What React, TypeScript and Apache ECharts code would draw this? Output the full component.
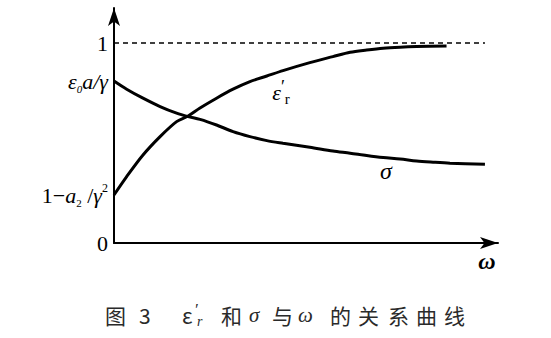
import React, { useEffect, useRef } from "react";
import * as echarts from "echarts";

// ε′r (relative permittivity) against ω
const epsOmega = [0, 0.33, 0.755, 1.2, 1.63, 1.93, 2.24, 2.67, 3.1, 3.54, 3.98, 4.4, 5.1, 5.7, 6.15, 6.58, 7.01, 7.45, 7.88, 8.66];
const epsValues = [0.24, 0.332, 0.44, 0.532, 0.607, 0.635, 0.675, 0.724, 0.769, 0.807, 0.835, 0.862, 0.902, 0.932, 0.954, 0.965, 0.974, 0.979, 0.982, 0.985];

// σ (conductivity) against ω
const sigmaOmega = [0, 0.33, 0.755, 1.2, 1.63, 1.93, 2.24, 2.67, 3.1, 3.54, 3.98, 4.4, 5.1, 5.7, 6.15, 6.58, 7.01, 7.45, 7.88, 8.31, 8.75, 9.66];
const sigmaValues = [0.81, 0.769, 0.724, 0.682, 0.649, 0.632, 0.618, 0.59, 0.557, 0.532, 0.512, 0.499, 0.479, 0.46, 0.449, 0.437, 0.427, 0.42, 0.41, 0.404, 0.399, 0.394];

// asymptote ε′r → 1
const limitOmega = [0, 9.66];
const limitValue = 1;

// marked levels on the vertical axis
const yTickValues = [0, 0.24, 0.81, 1];
const yTickLabels = [
  "{n|0}",
  "{n|1−}{i|a}{sub|2}{n| /}{i|γ}{sup|2}",
  "{i|ε}{subi|0}{i|a/γ}",
  "{n|1}",
];

const SERIF = "Liberation Serif";
const CJK = "Noto Sans CJK SC";

export default function App() {
  const ref = useRef<HTMLDivElement>(null);

  useEffect(() => {
    if (!ref.current) return;
    const chart = echarts.init(ref.current, undefined, { renderer: "svg" });

    const toPairs = (xs: number[], ys: number[]) => xs.map((x, i) => [x, ys[i]]);

    const captionColor = "#2a2a2a";
    const cjk = (text: string, x: number) => ({
      type: "text",
      x,
      y: 315,
      style: { text, fontFamily: CJK, fontSize: 21, fill: captionColor, verticalAlign: "middle" },
    });
    const greek = (text: string, x: number, y = 315, size = 21) => ({
      type: "text",
      x,
      y,
      style: { text, fontFamily: SERIF, fontStyle: "italic", fontSize: size, fill: captionColor, verticalAlign: "middle" },
    });

    chart.setOption({
      animation: false,
      backgroundColor: "#fff",
      grid: { left: 114, right: 53, top: 8, bottom: 95, outerBoundsMode: "none" },
      xAxis: {
        type: "value",
        min: 0,
        max: 10,
        name: "ω",
        nameLocation: "end",
        nameGap: -11,
        nameTextStyle: {
          fontFamily: SERIF,
          fontStyle: "italic",
          fontWeight: "bold",
          fontSize: 24,
          color: "#000",
          align: "center",
          verticalAlign: "top",
          padding: [6, 0, 0, 0],
        },
        axisLine: {
          show: true,
          symbol: ["none", "arrow"],
          symbolSize: [9, 18],
          lineStyle: { color: "#000", width: 2 },
        },
        axisTick: { show: false },
        axisLabel: { show: false },
        splitLine: { show: false },
      },
      yAxis: {
        type: "value",
        min: 0,
        max: 1.175,
        axisLine: {
          show: true,
          symbol: ["none", "arrow"],
          symbolSize: [9, 18],
          lineStyle: { color: "#000", width: 2 },
        },
        axisTick: { show: false },
        splitLine: { show: false },
        axisLabel: {
          show: true,
          customValues: yTickValues,
          margin: 6,
          formatter: (v: number) => {
            const i = yTickValues.findIndex((t) => Math.abs(t - v) < 1e-6);
            return i >= 0 ? yTickLabels[i] : "";
          },
          rich: {
            n: { fontFamily: SERIF, fontSize: 22, color: "#000", lineHeight: 26 },
            i: { fontFamily: SERIF, fontStyle: "italic", fontSize: 22, color: "#000", lineHeight: 26 },
            sub: { fontFamily: SERIF, fontSize: 11, color: "#000", lineHeight: 12, verticalAlign: "bottom" },
            subi: { fontFamily: SERIF, fontStyle: "italic", fontSize: 11, color: "#000", lineHeight: 12, verticalAlign: "bottom" },
            sup: { fontFamily: SERIF, fontSize: 12, color: "#000", lineHeight: 13, verticalAlign: "top" },
          },
        },
      },
      series: [
        {
          type: "line",
          data: toPairs(limitOmega, [limitValue, limitValue]),
          symbol: "none",
          lineStyle: { color: "#000", width: 1.3, type: [5, 4] },
          silent: true,
        },
        {
          name: "ε′r",
          type: "line",
          data: toPairs(epsOmega, epsValues),
          symbol: "none",
          smooth: 0.3,
          lineStyle: { color: "#000", width: 3 },
          markPoint: {
            symbol: "circle",
            symbolSize: 1,
            itemStyle: { color: "transparent" },
            label: {
              show: true,
              position: "inside",
              formatter: "{e|ε}{p|′}{r|r}",
              rich: {
                e: { fontFamily: SERIF, fontStyle: "italic", fontSize: 22, color: "#000", lineHeight: 28 },
                p: { fontFamily: SERIF, fontSize: 18, color: "#000", lineHeight: 16, verticalAlign: "top" },
                r: { fontFamily: SERIF, fontSize: 15, color: "#000", lineHeight: 13, verticalAlign: "bottom" },
              },
            },
            data: [{ coord: [4.35, 0.755] }],
          },
        },
        {
          name: "σ",
          type: "line",
          data: toPairs(sigmaOmega, sigmaValues),
          symbol: "none",
          smooth: 0.3,
          lineStyle: { color: "#000", width: 3 },
          markPoint: {
            symbol: "circle",
            symbolSize: 1,
            itemStyle: { color: "transparent" },
            label: {
              show: true,
              position: "inside",
              formatter: "σ",
              fontFamily: SERIF,
              fontStyle: "italic",
              fontSize: 24,
              color: "#000",
            },
            data: [{ coord: [7.08, 0.36] }],
          },
        },
      ],
      graphic: [
        cjk("图", 105),
        cjk("3", 139),
        {
          type: "text",
          x: 182,
          y: 315,
          style: { text: "ε", fontFamily: CJK, fontSize: 21, fill: captionColor, verticalAlign: "middle" },
        },
        greek("′", 194, 309, 17),
        greek("r", 197, 321, 14),
        cjk("和", 221),
        greek("σ", 249),
        cjk("与", 272),
        greek("ω", 298),
        cjk("的", 330),
        cjk("关", 358),
        cjk("系", 388),
        cjk("曲", 416),
        cjk("线", 444),
      ],
    });

    return () => chart.dispose();
  }, []);

  return <div ref={ref} style={{ position: "absolute", left: 0, top: 0, width: 551, height: 338 }} />;
}
